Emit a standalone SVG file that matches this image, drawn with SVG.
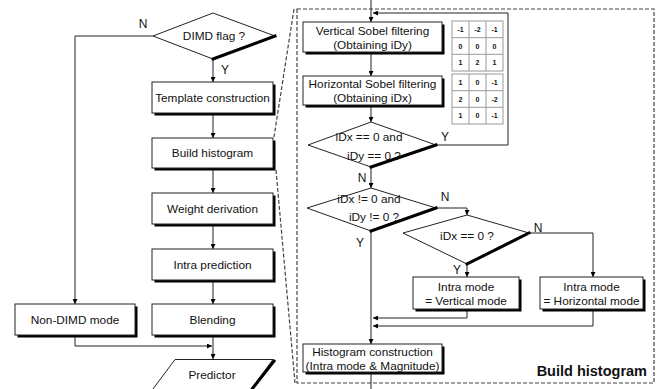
<svg xmlns="http://www.w3.org/2000/svg" width="664" height="389" viewBox="0 0 664 389">
<defs>
<marker id="ah" viewBox="0 0 10 10" refX="10" refY="5" markerWidth="5" markerHeight="5" markerUnits="userSpaceOnUse" orient="auto">
<path d="M0,0 L10,5 L0,10 z" fill="#000"/>
</marker>
<style>
text{font-family:"Liberation Sans",Arial,sans-serif;fill:#111;}
.t{font-size:11.8px;text-anchor:middle;}
.lb{font-size:12px;text-anchor:middle;}
.box{fill:#fff;stroke:#222;stroke-width:1;}
.sh{fill:#000;}
.dia{fill:#fff;stroke:#222;stroke-width:1;}
.thick{fill:none;stroke:#000;stroke-width:3;stroke-linecap:square;}
.ln{fill:none;stroke:#222;stroke-width:1;}
.arr{fill:none;stroke:#222;stroke-width:1;marker-end:url(#ah);}
.dash{fill:none;stroke:#444;stroke-width:1.2;stroke-dasharray:4 2;}
.mx{fill:#fff;stroke:#999;stroke-width:1;}
.m{font-size:7px;font-weight:bold;text-anchor:middle;}
.bh{font-size:14.5px;font-weight:bold;text-anchor:end;}
</style>
</defs>
<rect width="664" height="389" fill="#fff"/>

<g id="zoom-lines">
<line class="dash" x1="294" y1="9" x2="274" y2="137"/>
<line class="dash" x1="276" y1="170" x2="295" y2="383"/>
<rect class="dash" x="297" y="9" width="357" height="374"/>
</g>

<g id="connectors">
<polyline class="arr" points="153,36 75,36 75,304"/>
<polyline class="arr" points="75,336 75,346 212,346"/>
<line class="arr" x1="213" y1="59" x2="213" y2="82"/>
<line class="arr" x1="213" y1="114" x2="213" y2="138"/>
<line class="arr" x1="213" y1="170" x2="213" y2="193"/>
<line class="arr" x1="213" y1="225" x2="213" y2="249"/>
<line class="arr" x1="213" y1="281" x2="213" y2="304"/>
<line class="arr" x1="213" y1="337" x2="213" y2="359"/>
<line class="arr" x1="371" y1="0" x2="371" y2="22"/>
<polyline class="arr" points="436,145 508,145 508,13 373,13"/>
<line class="arr" x1="371" y1="53" x2="371" y2="76"/>
<line class="arr" x1="371" y1="106" x2="371" y2="122"/>
<line class="arr" x1="371" y1="167" x2="371" y2="188"/>
<polyline class="arr" points="436,208 467,208 467,215"/>
<line class="arr" x1="371" y1="231" x2="371" y2="344"/>
<polyline class="arr" points="529,233 593,233 593,277"/>
<line class="arr" x1="467" y1="264" x2="467" y2="277"/>
<polyline class="arr" points="467,310 467,318 373,318"/>
<polyline class="arr" points="593,310 593,326 373,326"/>
<line class="ln" x1="371" y1="373" x2="371" y2="389"/>
</g>

<g id="dimd-flag">
<polygon class="dia" points="153,36 213,13 275,36 213,59"/>
<line class="thick" x1="275" y1="36" x2="213" y2="59"/>
<text class="t" x="214" y="40">DIMD flag ?</text>
<text class="lb" x="143" y="28">N</text>
<text class="lb" x="225" y="74">Y</text>
</g>

<g id="template-construction">
<rect class="sh" x="154.5" y="84.5" width="121" height="31"/>
<rect class="box" x="152" y="82" width="121" height="31"/>
<text class="t" x="212.5" y="102">Template construction</text>
</g>
<g id="build-histogram">
<rect class="sh" x="154.5" y="140.5" width="121" height="30"/>
<rect class="box" x="152" y="138" width="121" height="30"/>
<text class="t" x="212.5" y="157">Build histogram</text>
</g>
<g id="weight-derivation">
<rect class="sh" x="154.5" y="195.5" width="121" height="31"/>
<rect class="box" x="152" y="193" width="121" height="31"/>
<text class="t" x="212.5" y="213">Weight derivation</text>
</g>
<g id="intra-prediction">
<rect class="sh" x="154.5" y="251.5" width="121" height="31"/>
<rect class="box" x="152" y="249" width="121" height="31"/>
<text class="t" x="212.5" y="269">Intra prediction</text>
</g>
<g id="blending">
<rect class="sh" x="154.5" y="306.5" width="121" height="31"/>
<rect class="box" x="152" y="304" width="121" height="31"/>
<text class="t" x="212.5" y="324">Blending</text>
</g>
<g id="non-dimd-mode">
<rect class="sh" x="17.5" y="306.5" width="120" height="31"/>
<rect class="box" x="15" y="304" width="120" height="31"/>
<text class="t" x="75" y="324">Non-DIMD mode</text>
</g>
<g id="predictor">
<polygon class="box" points="175,359.5 273,359.5 248,393 150,393"/>
<line class="thick" x1="274" y1="361" x2="249" y2="393"/>
<text class="t" x="212" y="379">Predictor</text>
</g>

<g id="vertical-sobel">
<rect class="sh" x="305.5" y="24.5" width="139" height="30"/>
<rect class="box" x="303" y="22" width="139" height="30"/>
<text class="t" x="372.5" y="35">Vertical Sobel filtering</text>
<text class="t" x="372.5" y="49">(Obtaining iDy)</text>
</g>
<g id="horizontal-sobel">
<rect class="sh" x="305.5" y="78.5" width="139" height="29"/>
<rect class="box" x="303" y="76" width="139" height="29"/>
<text class="t" x="372.5" y="88">Horizontal Sobel filtering</text>
<text class="t" x="372.5" y="102">(Obtaining iDx)</text>
</g>
<g id="sobel-kernels">
<rect class="mx" x="452" y="21" width="51" height="50"/>
<path class="mx" d="M469,21V71M486,21V71M452,37.7H503M452,54.3H503"/>
<text class="m" x="460.5" y="32">-1</text><text class="m" x="477.5" y="32">-2</text><text class="m" x="494.5" y="32">-1</text>
<text class="m" x="460.5" y="48.5">0</text><text class="m" x="477.5" y="48.5">0</text><text class="m" x="494.5" y="48.5">0</text>
<text class="m" x="460.5" y="65">1</text><text class="m" x="477.5" y="65">2</text><text class="m" x="494.5" y="65">1</text>
<rect class="mx" x="452" y="74" width="51" height="50"/>
<path class="mx" d="M469,74V124M486,74V124M452,90.7H503M452,107.3H503"/>
<text class="m" x="460.5" y="85">1</text><text class="m" x="477.5" y="85">0</text><text class="m" x="494.5" y="85">-1</text>
<text class="m" x="460.5" y="101.5">2</text><text class="m" x="477.5" y="101.5">0</text><text class="m" x="494.5" y="101.5">-2</text>
<text class="m" x="460.5" y="118">1</text><text class="m" x="477.5" y="118">0</text><text class="m" x="494.5" y="118">-1</text>
</g>
<g id="zero-check">
<polygon class="dia" points="308,145 371,122 436,145 371,167"/>
<line class="thick" x1="436" y1="145" x2="371" y2="167"/>
<text class="t" x="369" y="141">iDx == 0 and</text>
<text class="t" x="374" y="160">iDy == 0 ?</text>
<text class="lb" x="445" y="141">Y</text>
<text class="lb" x="362" y="182">N</text>
</g>
<g id="nonzero-check">
<polygon class="dia" points="307,208 371,188 436,208 371,231"/>
<line class="thick" x1="436" y1="208" x2="371" y2="231"/>
<text class="t" x="369" y="203">iDx != 0 and</text>
<text class="t" x="374" y="221">iDy != 0 ?</text>
<text class="lb" x="445" y="201">N</text>
<text class="lb" x="360" y="247">Y</text>
</g>
<g id="idx-check">
<polygon class="dia" points="403,233 467,215 529,233 467,264"/>
<line class="thick" x1="529" y1="233" x2="467" y2="264"/>
<text class="t" x="467" y="240">iDx == 0 ?</text>
<text class="lb" x="538" y="232">N</text>
<text class="lb" x="457" y="274">Y</text>
</g>
<g id="vertical-mode">
<rect class="sh" x="415.5" y="279.5" width="106" height="32"/>
<rect class="box" x="413" y="277" width="106" height="32"/>
<text class="t" x="466" y="291">Intra mode</text>
<text class="t" x="466" y="305">= Vertical mode</text>
</g>
<g id="horizontal-mode">
<rect class="sh" x="542.5" y="279.5" width="103" height="32"/>
<rect class="box" x="540" y="277" width="103" height="32"/>
<text class="t" x="591.5" y="291">Intra mode</text>
<text class="t" x="591.5" y="305">= Horizontal mode</text>
</g>
<g id="histogram-construction">
<rect class="sh" x="305.5" y="346.5" width="139" height="28"/>
<rect class="box" x="303" y="344" width="139" height="28"/>
<text class="t" x="372.5" y="356">Histogram construction</text>
<text class="t" x="372.5" y="370">(Intra mode &amp; Magnitude)</text>
</g>
<text class="bh" x="647" y="376">Build histogram</text>
</svg>
